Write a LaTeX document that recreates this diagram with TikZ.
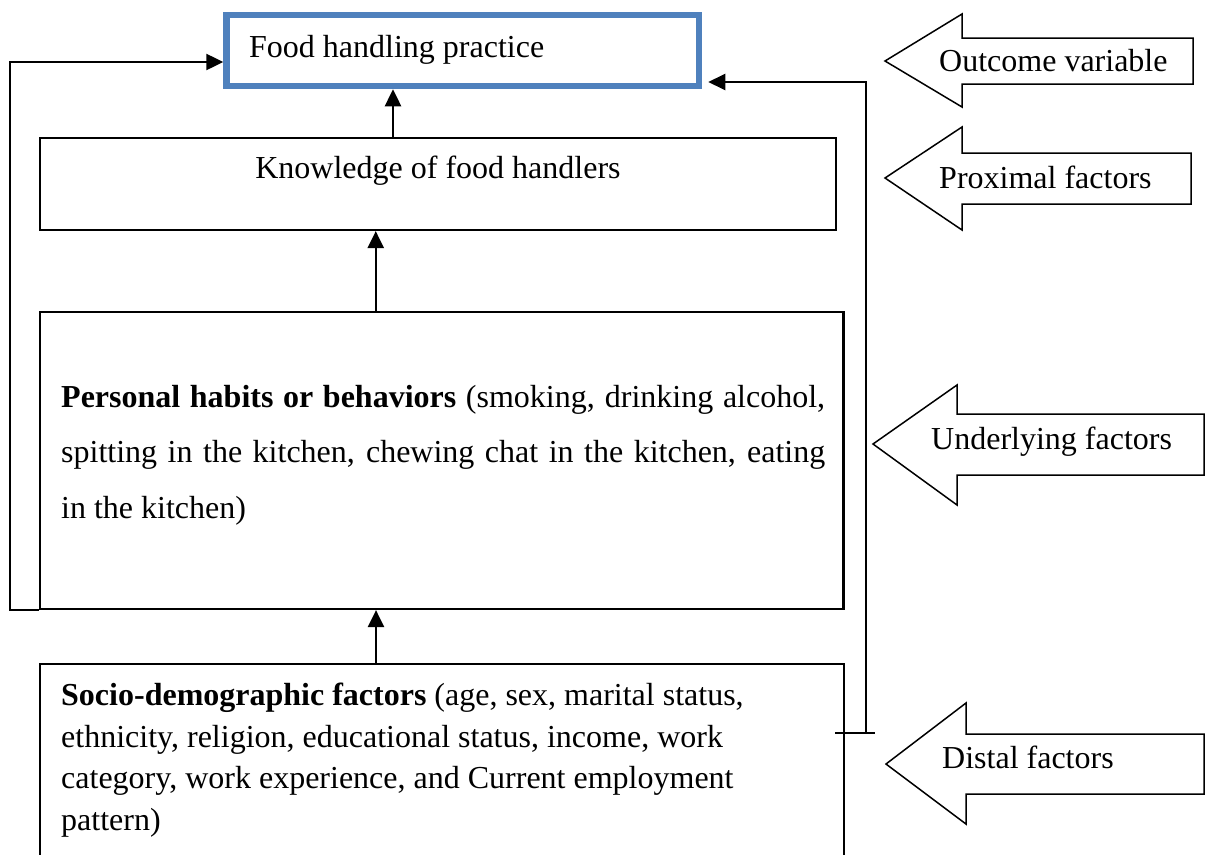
\documentclass[tikz,border=0pt]{standalone}
\usepackage{fontspec}
\setmainfont{Liberation Serif}
\usepackage{tikz}
\usetikzlibrary{arrows.meta}
\definecolor{boxblue}{RGB}{79,129,189}

\begin{document}
\begin{tikzpicture}[x=1pt, y=-1pt,
    box/.style={draw=black, line width=2.2pt, inner sep=0pt},
    txt/.style={inner sep=0pt, font=\fontsize{32}{38}\selectfont},
    flow/.style={-{Triangle[length=17pt, width=16pt]}, line width=2.5pt},
    link/.style={line width=2pt},
    bigarrow/.style={draw=black, line width=1.5pt, line join=miter}
]
\useasboundingbox (0,0) rectangle (1207,854);
\clip (0,0) rectangle (1207,854);

% boxes
\node[box, draw=boxblue, line width=6.5pt, minimum width=472.5pt, minimum height=71pt] (food) at (462.75,50.5) {};
\node[box, minimum width=796pt, minimum height=92pt] (know) at (438,184) {};
\node[box, minimum width=803.5pt, minimum height=297pt] (habits) at (441.75,460.5) {};
\node[box, minimum width=804pt, minimum height=216pt] (socio) at (442,772) {};

% box texts
\node[txt, anchor=base west] (foodtxt) at (249,57) {Food handling practice};
\node[txt, anchor=base] (knowtxt) at (438,178) {Knowledge of food handlers};
\node[txt, anchor=north west, text width=764pt, align=justify,
      font=\fontsize{32}{55.5}\selectfont] (habitstxt) at (61,385)
    {\textbf{Personal habits or behaviors} (smoking, drinking alcohol,\linebreak
     spitting in the kitchen, chewing chat in the kitchen, eating\linebreak
     in the kitchen)};
\node[txt, anchor=north west, align=left,
      font=\fontsize{32}{41.5}\selectfont] (sociotxt) at (61,683)
    {\textbf{Socio-demographic factors} (age, sex, marital status,\\
     ethnicity, religion, educational status, income, work\\
     category, work experience, and Current employment\\
     pattern)};

% level arrows
\draw[bigarrow] (885,61) -- (962,14) -- (962,38) -- (1193,38) -- (1193,84) -- (962,84) -- (962,107) -- cycle;
\draw[bigarrow] (885,178) -- (962,127) -- (962,153) -- (1191,153) -- (1191,204) -- (962,204) -- (962,230) -- cycle;
\draw[bigarrow] (873,444) -- (957,385) -- (957,414) -- (1204,414) -- (1204,475) -- (957,475) -- (957,505) -- cycle;
\draw[bigarrow] (886,764) -- (966,703) -- (966,734) -- (1204,734) -- (1204,794) -- (966,794) -- (966,824) -- cycle;
\node[txt, anchor=base west] (outtxt) at (939,71) {Outcome variable};
\node[txt, anchor=base west] (proxtxt) at (939,188) {Proximal factors};
\node[txt, anchor=base west] (undertxt) at (931,449) {Underlying factors};
\node[txt, anchor=base west] (disttxt) at (942,768) {Distal factors};

% connectors
\draw[flow] ([xshift=-45pt]know.north) -- ([xshift=-45pt]know.north |- food.south);
\draw[flow] ([xshift=-66pt]habits.north) -- ([xshift=-66pt]habits.north |- know.south);
\draw[flow] ([xshift=-66pt]socio.north) -- ([xshift=-66pt]socio.north |- habits.south);
\draw[flow] (habits.south west) -- ++(-29,0) |- ([yshift=-11.5pt]food.west);

\coordinate (tapL) at (835,733);
\coordinate (tapR) at (875,733);
\coordinate (tap) at (866,733);
\draw[link] (tapL) -- (tapR);
\draw[flow, line width=2pt, shorten >=6pt] (tap) |- ([yshift=-31.5pt]food.east);
\end{tikzpicture}
\end{document}
